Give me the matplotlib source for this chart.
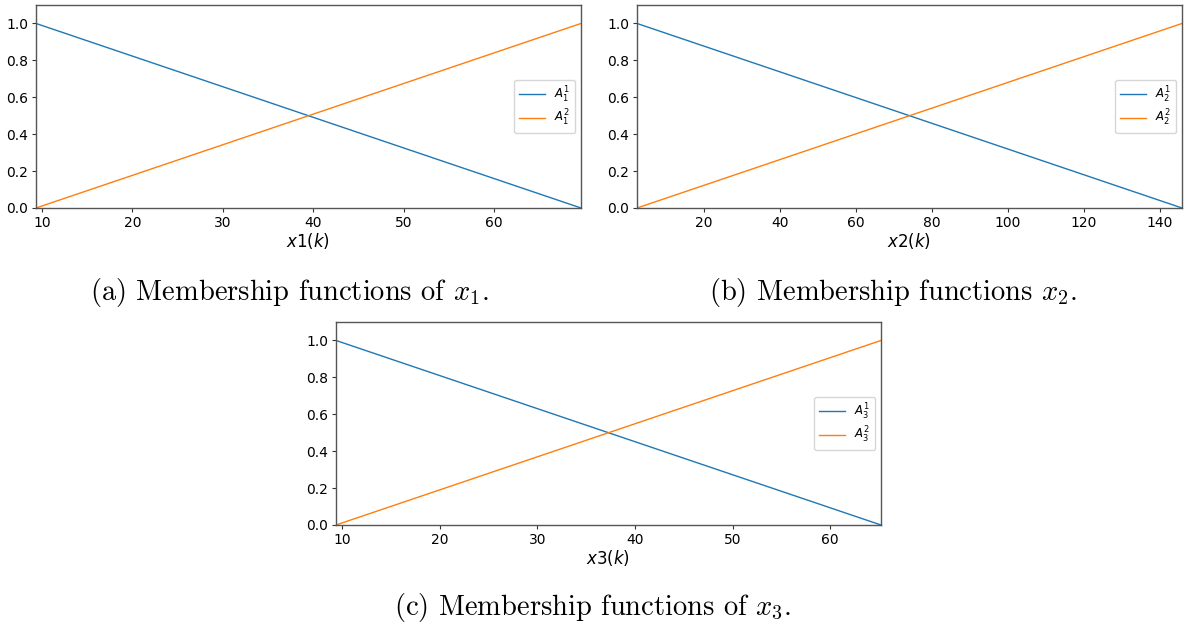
import matplotlib
matplotlib.use('Agg')
import matplotlib.pyplot as plt

# x ranges of the three inputs (min, max) and the two membership grades
x1_range = [9.35, 69.6]
x2_range = [2.4, 145.8]
x3_range = [9.4, 65.2]
mu_low = [1.0, 0.0]
mu_high = [0.0, 1.0]

xlabels = ['$x1(k)$', '$x2(k)$', '$x3(k)$']
legends = [[r'$A_1^1$', r'$A_1^2$'], [r'$A_2^1$', r'$A_2^2$'], [r'$A_3^1$', r'$A_3^2$']]
captions = [r'(a) Membership functions of $x_1$.',
            r'(b) Membership functions $x_2$.',
            r'(c) Membership functions of $x_3$.']

plt.rcParams['mathtext.fontset'] = 'dejavusans'

fig = plt.figure(figsize=(11.92, 6.28), dpi=100)

W, H = 1192, 628
boxes = [(36, 5, 581, 208), (637, 5, 1182, 208), (336, 322, 881, 525)]
ranges = [x1_range, x2_range, x3_range]
ticks = [[10, 20, 30, 40, 50, 60], [20, 40, 60, 80, 100, 120, 140], [10, 20, 30, 40, 50, 60]]
cap_pos = [(289, 293), (893, 293), (593, 608)]

for i in range(3):
	l, t, r, b = boxes[i]
	ax = fig.add_axes([l / W, 1 - b / H, (r - l) / W, (b - t) / H])
	ax.plot(ranges[i], mu_low, c='#1f77b4', lw=1.0, label=legends[i][0])
	ax.plot(ranges[i], mu_high, c='#ff7f0e', lw=1.0, label=legends[i][1])
	ax.set_xlim(ranges[i])
	ax.set_ylim([0, 1.1])
	ax.set_xticks(ticks[i])
	ax.set_yticks([0, 0.2, 0.4, 0.6, 0.8, 1.0])
	ax.tick_params(labelsize=10, length=3, width=0.8, color='#333333', pad=2.5)
	ax.set_xlabel(xlabels[i], fontsize=12, labelpad=1)
	for s in ax.spines.values():
		s.set_color('#555555')
		s.set_linewidth(1.0)
	ax.legend(loc='center right', fontsize=8.5, handlelength=2.2, labelspacing=0.3)

	x, y = cap_pos[i]
	fig.text(x / W, 1 - y / H, captions[i],
		ha='center', va='center', fontsize=20.5, family='cmr10',
		math_fontfamily='cm')

fig.savefig('out.png', dpi=100)
